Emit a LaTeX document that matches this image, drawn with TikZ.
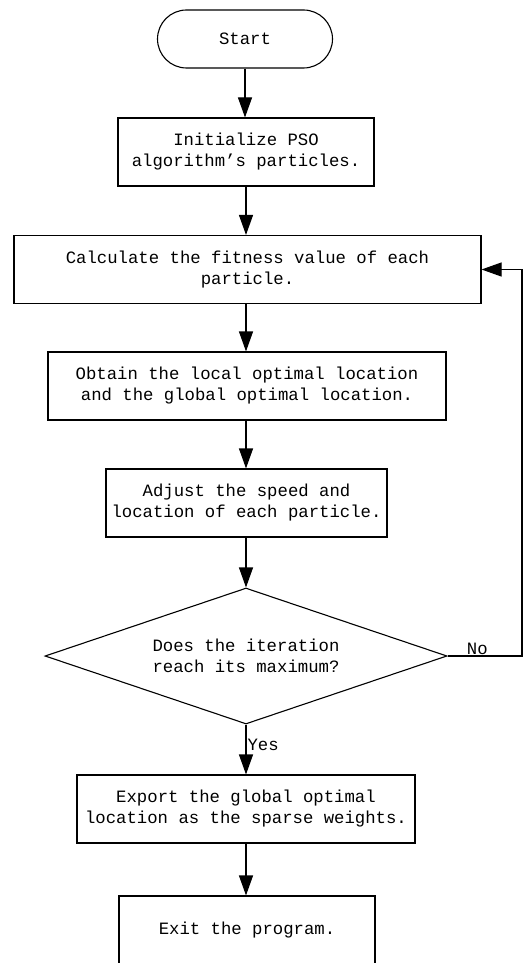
\documentclass[tikz,border=0pt]{standalone}
\usepackage{fontspec}
\setmonofont{Liberation Mono}
\usetikzlibrary{arrows.meta,shapes.geometric}

\begin{document}
\begin{tikzpicture}[
  x=1pt, y=-1pt,
  every node/.style={font=\ttfamily\fontsize{17.3}{21}\selectfont},
  flowbox/.style={draw, line width=1.1pt, rectangle, align=center,
    minimum height=68pt, inner sep=0pt},
  flowarrow/.style={-{Triangle[length=20pt,width=14pt]}, line width=1.1pt},
]
\useasboundingbox (0,0) rectangle (524,963);

  % Start
  \node[flowbox, rounded corners=29pt, minimum width=175pt, minimum height=58pt]
    (start) at (245,39) {Start};

  % Initialize
  \node[flowbox, minimum width=256pt] (init) at (246,152)
    {Initialize PSO\\algorithm’s particles.};
  \draw[flowarrow] (start.south) -- (start.south |- init.north);

  % Fitness
  \node[flowbox, minimum width=467pt] (calc) at (247.5,269.5)
    {Calculate the fitness value of each\\particle.};
  \draw[flowarrow] (init.south) -- (init.south |- calc.north);

  % Optimal locations
  \node[flowbox, minimum width=398pt] (best) at (247,386)
    {Obtain the local optimal location\\and the global optimal location.};
  \draw[flowarrow] (calc.south -| init.south) -- (init.south |- best.north);

  % Speed and location
  \node[flowbox, minimum width=281pt] (adjust) at (246.5,503)
    {Adjust the speed and\\location of each particle.};
  \draw[flowarrow] (best.south -| init.south) -- (init.south |- adjust.north);

  % Iteration check
  \node[draw, line width=1.1pt, diamond, aspect=2.95, align=center, inner sep=0pt,
    minimum width=402pt, minimum height=136pt] (check) at (246,656)
    {Does the iteration\\reach its maximum?};
  \draw[flowarrow] (adjust.south -| check.north) -- (check.north);

  % Export
  \node[flowbox, minimum width=338pt] (export) at (246,809)
    {Export the global optimal\\location as the sparse weights.};
  \draw[flowarrow] (check.south) --
    node[pos=0.4, right, inner sep=1pt] (yes) {Yes} (export.north);

  % Exit
  \node[flowbox, minimum width=256pt] (exit) at (247,930)
    {Exit the program.};
  \draw[flowarrow] (export.south) -- (export.south |- exit.north);

  % loop back
  \coordinate (loop) at (522,656);
  \draw[flowarrow] (check.east) --
    node[pos=0.4, above, inner sep=1pt] (no) {No} (loop) |- (calc.east);

\end{tikzpicture}
\end{document}
